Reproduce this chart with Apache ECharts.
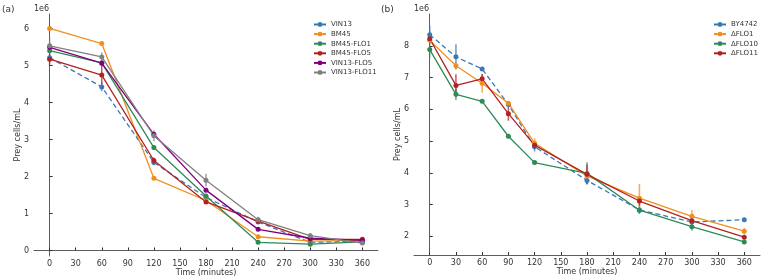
<!DOCTYPE html>
<html>
<head>
<meta charset="utf-8">
<script src="https://cdn.jsdelivr.net/npm/echarts@6/dist/echarts.min.js"></script>
<style>
  html, body { margin: 0; padding: 0; background: #fff; }
  #chart { width: 763px; height: 278px; }
</style>
</head>
<body>
<div id="chart"></div>
<script>
// panel (a)
var timesA = [0, 60, 120, 180, 240, 300, 360];
var namesA = ['VIN13', 'BM45', 'BM45-FLO1', 'BM45-FLO5', 'VIN13-FLO5', 'VIN13-FLO11'];
var valuesA = [
    [5.21, 4.42, 2.38, 1.43, 0.77, 0.22, 0.25],
    [6.00, 5.59, 1.95, 1.35, 0.37, 0.25, 0.27],
    [5.40, 5.07, 2.78, 1.47, 0.22, 0.17, 0.23],
    [5.17, 4.74, 2.43, 1.31, 0.79, 0.30, 0.30],
    [5.49, 5.06, 3.14, 1.63, 0.57, 0.33, 0.27],
    [5.53, 5.23, 3.10, 1.90, 0.83, 0.40, 0.20]
];
var errorsA = [
    [0.10, 0.12, 0.08, 0.05, 0.04, 0.03, 0.03],
    [0.03, 0.03, 0.04, 0.03, 0.03, 0.02, 0.02],
    [0.05, 0.05, 0.06, 0.05, 0.03, 0.03, 0.03],
    [0.15, 0.25, 0.08, 0.05, 0.05, 0.04, 0.04],
    [0.05, 0.08, 0.06, 0.05, 0.04, 0.03, 0.03],
    [0.20, 0.12, 0.15, 0.17, 0.08, 0.07, 0.05]
];
var colorsA = ['#3b78b6', '#f28e1e', '#2e8b57', '#b22222', '#800080', '#808080'];

// panel (b)
var timesB = [0, 30, 60, 90, 120, 180, 240, 300, 360];
var namesB = ['BY4742', 'ΔFLO1', 'ΔFLO10', 'ΔFLO11'];
var valuesB = [
    [8.35, 7.65, 7.27, 6.15, 4.82, 3.76, 2.83, 2.45, 2.52],
    [8.17, 7.37, 6.82, 6.19, 4.93, 3.90, 3.20, 2.63, 2.16],
    [7.88, 6.47, 6.25, 5.15, 4.32, 3.98, 2.82, 2.30, 1.82],
    [8.22, 6.75, 6.96, 5.86, 4.87, 3.95, 3.11, 2.49, 1.97]
];
var errorsB = [
    [0.28, 0.40, 0.05, 0.05, 0.15, 0.12, 0.05, 0.05, 0.04],
    [0.10, 0.10, 0.30, 0.05, 0.15, 0.12, 0.45, 0.20, 0.10],
    [0.25, 0.18, 0.04, 0.04, 0.04, 0.35, 0.12, 0.12, 0.06],
    [0.10, 0.35, 0.15, 0.22, 0.10, 0.30, 0.15, 0.08, 0.06]
];
var colorsB = ['#3b78b6', '#f28e1e', '#2e8b57', '#b22222'];

var xTicks = [0, 30, 60, 90, 120, 150, 180, 210, 240, 270, 300, 330, 360];
var yTicksA = [0, 1, 2, 3, 4, 5, 6];
var yTicksB = [2, 3, 4, 5, 6, 7, 8];

var font = 'DejaVu Sans';

function errRender(color) {
    return function (params, api) {
        var p1 = api.coord([api.value(0), api.value(1)]);
        var p2 = api.coord([api.value(0), api.value(2)]);
        return {
            type: 'line',
            shape: {x1: p1[0], y1: p1[1], x2: p2[0], y2: p2[1]},
            style: {stroke: color, lineWidth: 1.5, opacity: 0.75}
        };
    };
}

function makeSeries(names, times, values, errors, colors, idx) {
    var out = [];
    names.forEach(function (name, i) {
        out.push({
            type: 'custom',
            name: name + ' err',
            xAxisIndex: idx, yAxisIndex: idx,
            renderItem: errRender(colors[i]),
            data: times.map(function (t, j) {
                return [t, values[i][j] - errors[i][j], values[i][j] + errors[i][j]];
            }),
            encode: {x: 0, y: [1, 2]},
            itemStyle: {color: colors[i]},
            z: 3,
            silent: true
        });
        out.push({
            type: 'line',
            name: name,
            xAxisIndex: idx, yAxisIndex: idx,
            data: times.map(function (t, j) { return [t, values[i][j]]; }),
            symbol: 'circle',
            symbolSize: 5,
            showSymbol: true,
            color: colors[i],
            lineStyle: {width: 1.3, type: i === 0 ? [5, 3] : 'solid'},
            z: 4
        });
    });
    return out;
}

function xAxis(idx) {
    return {
        type: 'value', gridIndex: idx, min: -18, max: 378,
        name: 'Time (minutes)', nameLocation: 'middle', nameGap: 13,
        nameMoveOverlap: false,
        nameTextStyle: {fontSize: 8, fontFamily: font, color: '#333'},
        axisLine: {lineStyle: {color: '#333', width: 0.8}},
        axisTick: {inside: true, length: 3, customValues: xTicks, lineStyle: {color: '#333'}},
        axisLabel: {fontSize: 8, fontFamily: font, color: '#333', margin: 4, customValues: xTicks},
        splitLine: {show: false}
    };
}

function yAxis(idx, min, max, ticks) {
    return {
        type: 'value', gridIndex: idx, min: min, max: max,
        name: 'Prey cells/mL', nameLocation: 'middle', nameGap: 12,
        nameMoveOverlap: false,
        nameTextStyle: {fontSize: 8, fontFamily: font, color: '#333'},
        axisLine: {show: true, lineStyle: {color: '#333', width: 0.8}},
        axisTick: {show: true, inside: true, length: 3, customValues: ticks, lineStyle: {color: '#333'}},
        axisLabel: {fontSize: 8, fontFamily: font, color: '#333', margin: 5, customValues: ticks},
        splitLine: {show: false}
    };
}

var option = {
    backgroundColor: '#fff',
    animation: false,
    grid: [
        {left: 34, top: 14, width: 344, height: 242, outerBoundsMode: 'none'},
        {left: 414, top: 14, width: 346, height: 241, outerBoundsMode: 'none'}
    ],
    xAxis: [xAxis(0), xAxis(1)],
    yAxis: [yAxis(0, -0.15, 6.39, yTicksA), yAxis(1, 1.41, 9.0, yTicksB)],
    legend: [
        {
            data: namesA, orient: 'vertical', left: 308, top: 16,
            itemWidth: 12, itemHeight: 6, itemGap: 2.6,
            textStyle: {fontSize: 7, fontFamily: font, color: '#333'}
        },
        {
            data: namesB, orient: 'vertical', left: 708, top: 16,
            itemWidth: 12, itemHeight: 6, itemGap: 2.6,
            textStyle: {fontSize: 7, fontFamily: font, color: '#333'}
        }
    ],
    graphic: [
        {type: 'text', left: 2, top: 5, style: {text: '(a)', fontSize: 9, fontFamily: font, fill: '#333'}},
        {type: 'text', left: 34, top: 5, style: {text: '1e6', fontSize: 8, fontFamily: font, fill: '#333'}},
        {type: 'text', left: 381, top: 5, style: {text: '(b)', fontSize: 9, fontFamily: font, fill: '#333'}},
        {type: 'text', left: 414, top: 5, style: {text: '1e6', fontSize: 8, fontFamily: font, fill: '#333'}}
    ],
    series: makeSeries(namesA, timesA, valuesA, errorsA, colorsA, 0)
        .concat(makeSeries(namesB, timesB, valuesB, errorsB, colorsB, 1))
};

var myChart = echarts.init(document.getElementById('chart'));
myChart.setOption(option);
</script>
</body>
</html>
